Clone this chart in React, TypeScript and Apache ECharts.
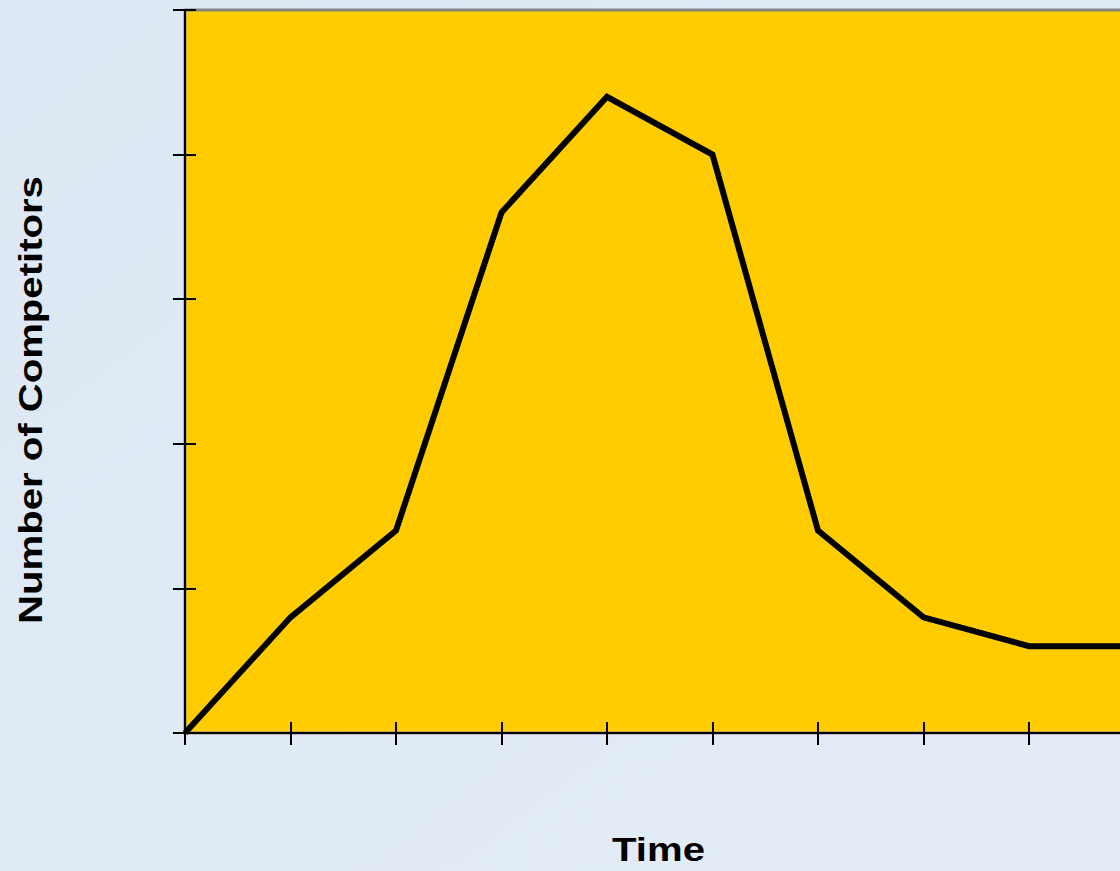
import React, { useEffect, useRef } from "react";
import * as echarts from "echarts";

const categories = ["1", "2", "3", "4", "5", "6", "7", "8", "9", "10"];
const competitors = [0, 4, 7, 18, 22, 20, 7, 4, 3, 3];
const yMin = 0;
const yMax = 25;
const yInterval = 5;
const xAxisTitle = "Time";
const yAxisTitle = "Number of Competitors";

export default function App() {
  const ref = useRef<HTMLDivElement>(null);
  useEffect(() => {
    if (!ref.current) return;
    const chart = echarts.init(ref.current, null, { renderer: "svg" });
    const tickOut = { show: true, length: 12, inside: false, lineStyle: { color: "#000", width: 2 } };
    const tickIn = { show: true, length: 11, inside: true, lineStyle: { color: "#000", width: 2 } };
    const lastIdx = categories.length - 1;
    chart.setOption({
      animation: false,
      backgroundColor: {
        type: "linear",
        x: 0,
        y: 0,
        x2: 1,
        y2: 1,
        colorStops: [
          { offset: 0, color: "#dde8f4" },
          { offset: 1, color: "#e3ecf7" },
        ],
      },
      grid: {
        left: 185,
        top: 10,
        width: 949.5,
        height: 723,
        show: true,
        backgroundColor: "#FFCC00",
        borderWidth: 3,
        borderColor: "#858585",
        z: 0,
      },
      xAxis: [
        {
          type: "category",
          data: categories,
          boundaryGap: false,
          min: 0,
          max: lastIdx,
          position: "bottom",
          z: 3,
          axisLine: { show: true, onZero: false, lineStyle: { color: "#000", width: 2 } },
          axisTick: tickOut,
          axisLabel: { show: false },
          splitLine: { show: false },
        },
        {
          type: "category",
          data: categories,
          boundaryGap: false,
          min: 0,
          max: lastIdx,
          position: "bottom",
          z: 3,
          axisLine: { show: false, onZero: false },
          axisTick: tickIn,
          axisLabel: { show: false },
          splitLine: { show: false },
        },
      ],
      yAxis: [
        {
          type: "value",
          min: yMin,
          max: yMax,
          interval: yInterval,
          position: "left",
          z: 3,
          axisLine: { show: true, onZero: false, lineStyle: { color: "#000", width: 2 } },
          axisTick: tickOut,
          axisLabel: { show: false },
          splitLine: { show: false },
        },
        {
          type: "value",
          min: yMin,
          max: yMax,
          interval: yInterval,
          position: "left",
          offset: 0,
          z: 3,
          axisLine: { show: false, onZero: false },
          axisTick: tickIn,
          axisLabel: { show: false },
          splitLine: { show: false },
        },
      ],
      series: [
        {
          type: "line",
          data: competitors,
          xAxisIndex: 0,
          yAxisIndex: 0,
          symbol: "none",
          lineStyle: { color: "#000", width: 6, join: "miter" },
          z: 5,
        },
      ],
      graphic: [
        {
          type: "text",
          x: 658.5,
          y: 849.5,
          scaleX: 1.18,
          style: {
            text: xAxisTitle,
            font: "bold 34px 'Liberation Sans', Arial, sans-serif",
            fill: "#000",
            align: "center",
            verticalAlign: "middle",
          },
        },
        {
          type: "text",
          x: 30,
          y: 400,
          rotation: Math.PI / 2,
          scaleX: 1.18,
          style: {
            text: yAxisTitle,
            font: "bold 34px 'Liberation Sans', Arial, sans-serif",
            fill: "#000",
            align: "center",
            verticalAlign: "middle",
          },
        },
      ],
    });
    return () => chart.dispose();
  }, []);
  return (
    <div
      style={{
        position: "absolute",
        left: 0,
        top: 0,
        width: 1120,
        height: 871,
        overflow: "hidden",
      }}
    >
      <div ref={ref} style={{ width: 1150, height: 871 }} />
    </div>
  );
}
